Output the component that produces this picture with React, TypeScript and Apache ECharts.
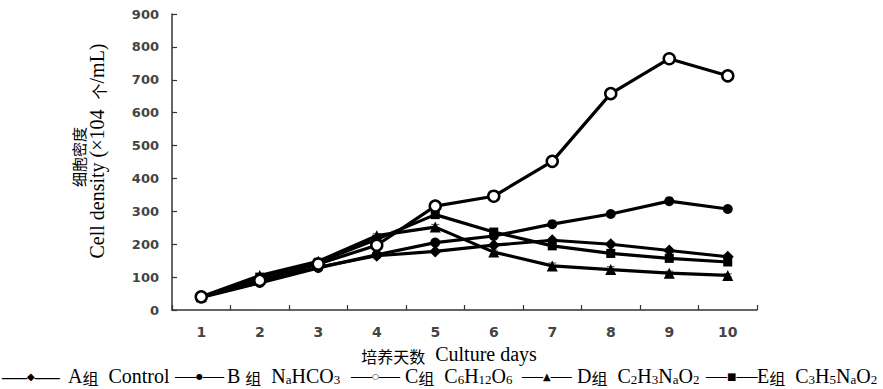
import React, { useEffect, useRef } from "react";
import * as echarts from "echarts";

// ---- data ----
const days = ["1", "2", "3", "4", "5", "6", "7", "8", "9", "10"];
const groupA = [40, 85, 130, 165, 178, 197, 212, 200, 181, 162];
const groupB = [38, 82, 128, 168, 205, 225, 261, 292, 331, 307];
const groupC = [40, 90, 140, 197, 316, 346, 452, 658, 764, 712];
const groupD = [40, 105, 148, 226, 252, 176, 134, 123, 112, 105];
const groupE = [38, 100, 145, 215, 290, 237, 195, 172, 157, 146];
const errD = [3, 4, 5, 6, 8, 6, 9, 9, 6, 5];
const errE = [3, 4, 5, 6, 8, 6, 8, 12, 10, 9];

const legendNames = ["A组  Control", "B 组  NaHCO3", "C组  C6H12O6", "D组  C2H3NaO2", "E组  C3H5NaO2"];

const SERIF = '"Liberation Serif", "Times New Roman", serif';
const CJK = '"Noto Sans CJK SC", sans-serif';
const SANS = '"DejaVu Sans", sans-serif';

const rich = {
  ln: { fontFamily: SERIF, fontSize: 21, lineHeight: 18, verticalAlign: "middle", color: "#000" },
  lnw: { fontFamily: SERIF, fontSize: 25, lineHeight: 18, verticalAlign: "middle", color: "#000" },
  mk: { fontFamily: SANS, fontSize: 10, lineHeight: 18, verticalAlign: "middle", color: "#000" },
  mks: { fontFamily: SANS, fontSize: 8, lineHeight: 18, verticalAlign: "middle", color: "#000" },
  t: { fontFamily: SERIF, fontSize: 20, lineHeight: 20, verticalAlign: "bottom", color: "#000" },
  c: { fontFamily: CJK, fontSize: 16, lineHeight: 20, verticalAlign: "bottom", color: "#000" },
  s: { fontFamily: SERIF, fontSize: 13, lineHeight: 12, verticalAlign: "bottom", color: "#000" },
};

export default function App() {
  const ref = useRef<HTMLDivElement>(null);

  useEffect(() => {
    const chart = echarts.init(ref.current!, null, { renderer: "svg" });

    const line = (name: string, data: number[], symbol: string, size: number, itemStyle: any, z: number) => ({
      type: "line",
      name,
      data,
      symbol,
      symbolSize: size,
      showAllSymbol: true,
      lineStyle: { color: "#000", width: 3.2 },
      itemStyle,
      z,
    });

    const errSeries = (vals: number[], errs: number[]) => ({
      type: "custom",
      data: vals.map((v, i) => [i, v, errs[i]]),
      z: 1,
      renderItem: (_p: any, api: any) => {
        const x = api.value(0);
        const y = api.value(1);
        const e = api.value(2);
        const top = api.coord([x, y + e]);
        const bot = api.coord([x, y - e]);
        const w = 4;
        const st = { stroke: "#666", lineWidth: 1.2 };
        return {
          type: "group",
          children: [
            { type: "line", shape: { x1: top[0], y1: top[1], x2: bot[0], y2: bot[1] }, style: st },
            { type: "line", shape: { x1: top[0] - w, y1: top[1], x2: top[0] + w, y2: top[1] }, style: st },
            { type: "line", shape: { x1: bot[0] - w, y1: bot[1], x2: bot[0] + w, y2: bot[1] }, style: st },
          ],
        };
      },
    });

    const legendItems = [
      { ix: 2, icon: "{lnw|—}{mk|◆}{lnw|—}", tx: 68, text: "{t|A}{c|组}{t|  Control}" },
      { ix: 175, icon: "{ln|—}{mks|●}{ln|—}", tx: 227, text: "{t|B }{c|组}{t|  N}{s|a}{t|HCO}{s|3}" },
      { ix: 351, icon: "{ln|—}{mks|○}{ln|—}", tx: 405, text: "{t|C}{c|组}{t|  C}{s|6}{t|H}{s|12}{t|O}{s|6}" },
      { ix: 522, icon: "{ln|—}{mk|▲}{ln|—}", tx: 577, text: "{t|D}{c|组}{t|  C}{s|2}{t|H}{s|3}{t|N}{s|a}{t|O}{s|2}" },
      { ix: 706, icon: "{ln|—}{mk|■}{ln|—}", tx: 757, text: "{t|E}{c|组}{t|  C}{s|3}{t|H}{s|5}{t|N}{s|a}{t|O}{s|2}" },
    ];

    const legendGraphics: any[] = [];
    legendItems.forEach((l) => {
      legendGraphics.push({
        type: "text",
        x: l.ix,
        y: 376,
        style: { text: l.icon, rich, align: "left", verticalAlign: "middle" },
      });
      legendGraphics.push({
        type: "text",
        x: l.tx,
        y: 376,
        style: { text: l.text, rich, align: "left", verticalAlign: "middle" },
      });
    });

    const option: any = {
      animation: false,
      backgroundColor: "#fff",
      grid: { left: 172, right: 126, top: 14, bottom: 79, containLabel: false },
      xAxis: {
        type: "category",
        data: days,
        boundaryGap: true,
        axisLine: { lineStyle: { color: "#333", width: 1.5 } },
        axisTick: { show: true, inside: true, length: 5, lineStyle: { color: "#333", width: 1.2 } },
        axisLabel: { color: "#444", fontWeight: "bold", fontFamily: SANS, fontSize: 14, margin: 15 },
        splitLine: { show: false },
      },
      yAxis: {
        type: "value",
        min: 0,
        max: 900,
        interval: 100,
        axisLine: { show: true, lineStyle: { color: "#333", width: 1.5 } },
        axisTick: { show: true, inside: true, length: 5, lineStyle: { color: "#333", width: 1.2 } },
        axisLabel: { color: "#444", fontWeight: "bold", fontFamily: SANS, fontSize: 13, margin: 13 },
        splitLine: { show: false },
      },
      series: [
        errSeries(groupD, errD),
        errSeries(groupE, errE),
        line(legendNames[0], groupA, "diamond", 12, { color: "#000" }, 3),
        line(legendNames[1], groupB, "circle", 10, { color: "#000" }, 3),
        line(legendNames[3], groupD, "triangle", 11, { color: "#000" }, 3),
        line(legendNames[4], groupE, "rect", 9, { color: "#000" }, 3),
        line(legendNames[2], groupC, "circle", 11, { color: "#fff", borderColor: "#000", borderWidth: 2.5 }, 4),
      ],
      graphic: [
        {
          type: "text",
          x: 78,
          y: 157,
          rotation: Math.PI / 2,
          style: { text: "细胞密度", font: `15px ${CJK}`, fill: "#000", align: "center", verticalAlign: "middle" },
        },
        {
          type: "text",
          x: 97,
          y: 151,
          rotation: Math.PI / 2,
          style: {
            text: "{t|Cell density (×104  }{c|个}{t|/mL)}",
            rich,
            align: "center",
            verticalAlign: "middle",
          },
        },
        {
          type: "text",
          x: 449,
          y: 354,
          style: {
            text: "{c|培养天数}{t|  Culture days}",
            rich,
            align: "center",
            verticalAlign: "middle",
          },
        },
        ...legendGraphics,
      ],
    };

    chart.setOption(option);
    return () => chart.dispose();
  }, []);

  return (
    <div
      ref={ref}
      style={{ position: "fixed", left: 0, top: 0, width: 883, height: 389, background: "#fff" }}
    />
  );
}
